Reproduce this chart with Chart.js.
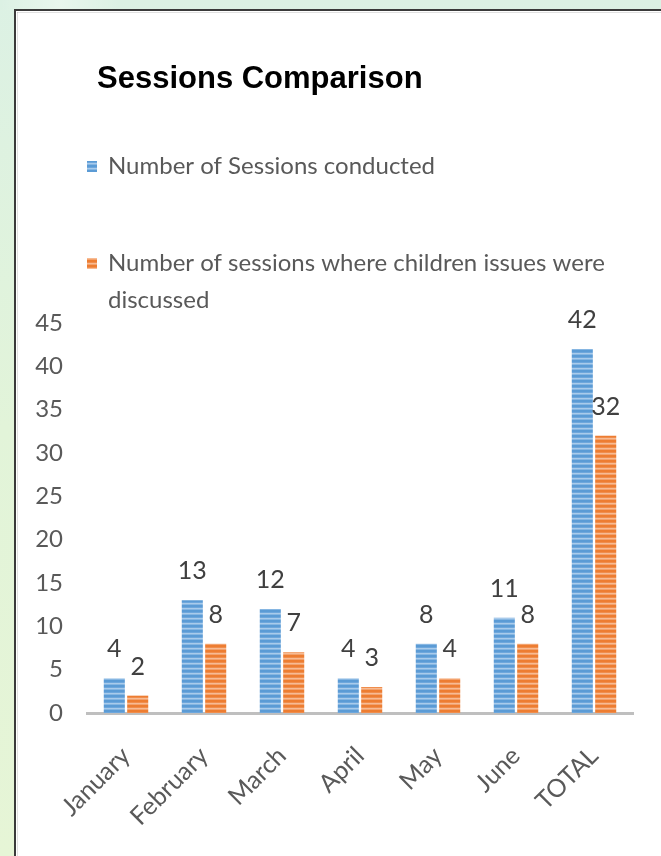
<!DOCTYPE html>
<html>
<head>
<meta charset="utf-8">
<script src="https://cdn.jsdelivr.net/npm/chart.js@4/dist/chart.umd.min.js"></script>
<style>
  html, body { margin: 0; padding: 0; background: #ffffff; }
  #wrap { width: 661px; height: 856px; }
</style>
</head>
<body>
<div id="wrap"><canvas id="chart" width="661" height="856"></canvas></div>
<script>
// Monthly session counts
const chartTitle = 'Sessions Comparison';
const categories = ['January', 'February', 'March', 'April', 'May', 'June', 'TOTAL'];
const seriesNames = [
  'Number of Sessions conducted',
  'Number of sessions where children issues were discussed'
];
const sessionsConducted = [4, 13, 12, 4, 8, 11, 42];
const childrenIssuesDiscussed = [2, 8, 7, 3, 4, 8, 32];
const yMin = 0;
const yMax = 45;
const yStep = 5;

const FONT = "Lato, 'Open Sans', sans-serif";

// Horizontally striped fill, like the textured bars of office charts
function stripes(rows) {
  const c = document.createElement('canvas');
  c.width = 4; c.height = rows.length;
  const g = c.getContext('2d');
  rows.forEach((col, i) => { g.fillStyle = col; g.fillRect(0, i, 4, 1); });
  return g.createPattern(c, 'repeat');
}
const ctx = document.getElementById('chart').getContext('2d');
const bluePattern = stripes(['#5b9bd5', '#5b9bd5', '#6ea7dc', '#a9cbeb', '#86b6e2']);
const orangePattern = stripes(['#ed7d31', '#ed7d31', '#f08d4c', '#f7bb93', '#f3a26d']);

// Page backdrop and framed white panel
const backdrop = {
  id: 'backdrop',
  beforeDraw(chart) {
    const c = chart.ctx;
    c.save();
    const g = c.createLinearGradient(0, 0, 0, 856);
    g.addColorStop(0, '#dcf1e4');
    g.addColorStop(0.5, '#e2f4d9');
    g.addColorStop(1, '#e6f5d6');
    c.fillStyle = g;
    c.fillRect(0, 0, 661, 856);
    const h = c.createLinearGradient(0, 0, 120, 0);
    h.addColorStop(0, 'rgba(255,255,255,0.0)');
    h.addColorStop(0.5, 'rgba(255,255,255,0.35)');
    h.addColorStop(1, 'rgba(255,255,255,0.0)');
    c.fillStyle = h;
    c.fillRect(0, 0, 661, 10);
    c.fillStyle = '#ffffff';
    c.fillRect(15, 10, 661, 856);
    c.strokeStyle = '#3a3a3a';
    c.lineWidth = 2;
    c.beginPath();
    c.moveTo(15, 860); c.lineTo(15, 10); c.lineTo(670, 10);
    c.stroke();
    c.strokeStyle = 'rgba(0,0,0,0.12)';
    c.lineWidth = 1;
    c.beginPath();
    c.moveTo(17, 12.5); c.lineTo(661, 12.5);
    c.moveTo(17.5, 12); c.lineTo(17.5, 856);
    c.stroke();
    c.restore();
  }
};

// Title and a stacked legend with wrapped labels
const header = {
  id: 'header',
  afterDraw(chart) {
    const c = chart.ctx;
    c.save();
    c.fillStyle = '#000000';
    c.font = "bold 31px 'Liberation Sans', Arial, sans-serif";
    c.textBaseline = 'alphabetic';
    c.textAlign = 'left';
    c.fillText(chartTitle, 97, 88);

    c.font = '24px ' + FONT;
    c.textBaseline = 'middle';
    const rowsY = [166, 263];
    const lineH = 37;
    chart.data.datasets.forEach((ds, i) => {
      const y = rowsY[i];
      c.fillStyle = ds.backgroundColor;
      c.fillRect(87, y - 5, 10, 11);
      c.fillStyle = '#595959';
      const words = ds.label.split(' ');
      let line = '';
      let ly = y;
      words.forEach(w => {
        const test = line ? line + ' ' + w : w;
        if (c.measureText(test).width > 520 && line) {
          c.fillText(line, 108, ly);
          line = w; ly += lineH;
        } else {
          line = test;
        }
      });
      c.fillText(line, 108, ly);
    });
    c.restore();
  }
};

// Value above each bar
const valueLabels = {
  id: 'valueLabels',
  afterDatasetsDraw(chart) {
    const c = chart.ctx;
    c.save();
    c.font = '25px ' + FONT;
    c.fillStyle = '#404040';
    c.textAlign = 'center';
    c.textBaseline = 'middle';
    chart.data.datasets.forEach((ds, i) => {
      chart.getDatasetMeta(i).data.forEach((bar, j) => {
        c.fillText(String(ds.data[j]), bar.x, bar.y - 29);
      });
    });
    c.restore();
  }
};

new Chart(ctx, {
  type: 'bar',
  data: {
    labels: categories,
    datasets: [
      { label: seriesNames[0], data: sessionsConducted, backgroundColor: bluePattern,
        categoryPercentage: 0.6, barPercentage: 0.9 },
      { label: seriesNames[1], data: childrenIssuesDiscussed, backgroundColor: orangePattern,
        categoryPercentage: 0.6, barPercentage: 0.9 }
    ]
  },
  options: {
    responsive: false,
    devicePixelRatio: 1,
    animation: false,
    layout: { padding: { top: 323, right: 28, bottom: 0, left: 0 } },
    plugins: {
      legend: { display: false },
      title: { display: false },
      tooltip: { enabled: false }
    },
    scales: {
      x: {
        grid: { display: false, drawTicks: false },
        border: { display: true, color: '#bfbfbf', width: 3 },
        ticks: {
          color: '#595959',
          font: { family: FONT, size: 25 },
          maxRotation: 45, minRotation: 45,
          autoSkip: false,
          padding: 28
        },
        afterFit(scale) { scale.height = 143; }
      },
      y: {
        min: yMin, max: yMax,
        grid: { display: false, drawTicks: false },
        border: { display: false },
        ticks: {
          stepSize: yStep,
          color: '#595959',
          font: { family: FONT, size: 24 },
          padding: 24
        },
        afterFit(scale) { scale.width = 87; }
      }
    }
  },
  plugins: [backdrop, header, valueLabels]
});
</script>
</body>
</html>
